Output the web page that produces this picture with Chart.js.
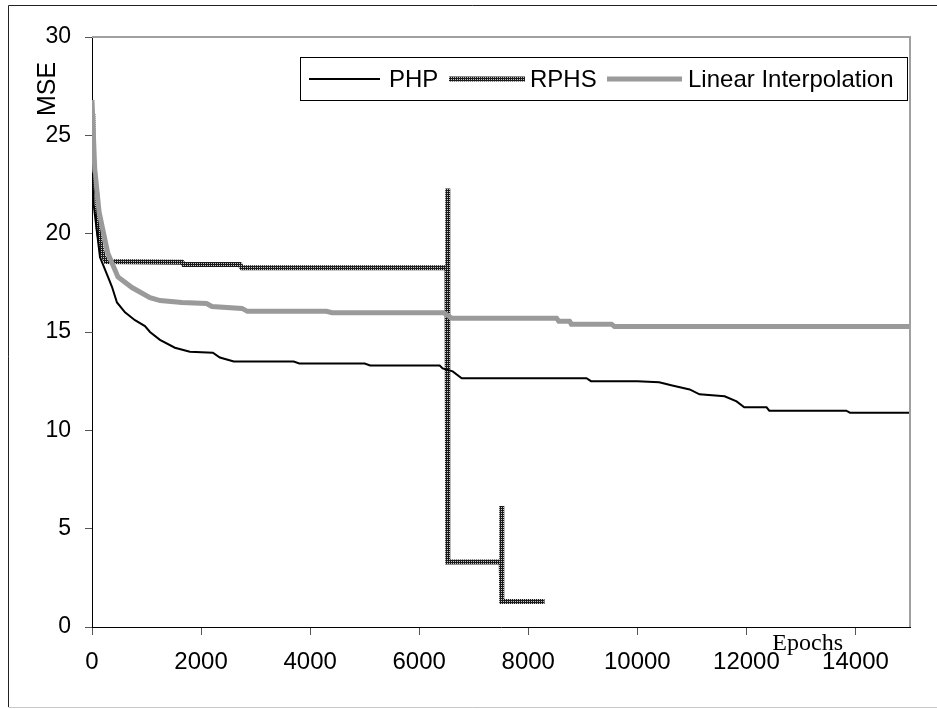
<!DOCTYPE html>
<html>
<head>
<meta charset="utf-8">
<script src="https://cdn.jsdelivr.net/npm/chart.js@4.4.0/dist/chart.umd.min.js"></script>
<style>
  html, body { margin: 0; padding: 0; background: #fff; }
  canvas { display: block; }
</style>
</head>
<body>
<canvas id="mseChart" width="937" height="709"></canvas>
<script>
// values (epochs, MSE)
const phpEpochs = [0, 30, 147, 293, 366, 458, 605, 788, 971, 1063, 1246, 1520, 1795, 2217, 2345, 2600, 3700, 3800, 5000, 5100, 6375, 6430, 6614, 6779, 9068, 9150, 10000, 10400, 10640, 10960, 11140, 11600, 11820, 11960, 12370, 12420, 13830, 13900, 15000];
const phpMse = [23.1, 21.5, 18.8, 17.8, 17.3, 16.5, 16.0, 15.6, 15.3, 15.0, 14.6, 14.2, 14.0, 13.95, 13.7, 13.5, 13.5, 13.4, 13.4, 13.3, 13.3, 13.15, 13.0, 12.65, 12.65, 12.5, 12.5, 12.44, 12.28, 12.08, 11.83, 11.73, 11.47, 11.17, 11.17, 11.0, 11.0, 10.9, 10.9];

const rphsEpochs = [15, 25, 90, 110, 160, 200, 260, 1650, 1680, 2710, 2750, 6510, 6520, 6528, 7505, 7511, 7518, 8299];
const rphsMse = [26.1, 23.2, 22.0, 20.3, 19.4, 18.9, 18.58, 18.55, 18.43, 18.43, 18.27, 18.27, 22.3, 3.3, 3.3, 6.15, 1.3, 1.3];

const linEpochs = [0, 50, 130, 290, 476, 733, 1063, 1250, 1650, 2100, 2200, 2750, 2850, 4300, 4400, 6450, 6600, 8519, 8560, 8757, 8790, 9526, 9581, 15000];
const linMse = [26.8, 23.3, 21.1, 19.0, 17.8, 17.26, 16.75, 16.6, 16.5, 16.45, 16.3, 16.2, 16.05, 16.05, 15.98, 15.98, 15.7, 15.7, 15.55, 15.55, 15.4, 15.4, 15.28, 15.28];

const seriesNames = ['PHP', 'RPHS', 'Linear Interpolation'];
const xTicks = [0, 2000, 4000, 6000, 8000, 10000, 12000, 14000];
const yTicks = [0, 5, 10, 15, 20, 25, 30];

const sans = '"Liberation Sans", Arial, sans-serif';
const serif = '"Liberation Serif", "Times New Roman", serif';

// dark dotted texture for the RPHS line
function makeDotPattern() {
    const c = document.createElement('canvas');
    c.width = 2; c.height = 2;
    const g = c.getContext('2d');
    g.fillStyle = '#1a1a1a';
    g.fillRect(0, 0, 2, 2);
    g.fillStyle = '#c8c8c8';
    g.fillRect(1, 1, 1, 1);
    return g.createPattern(c, 'repeat');
}

const toPoints = (xs, ys) => xs.map((x, i) => ({ x: x, y: ys[i] }));
const rphsPattern = makeDotPattern();

const decorPlugin = {
    id: 'decor',
    beforeDraw(chart) {
        const ctx = chart.ctx;
        ctx.save();
        ctx.fillStyle = '#fff';
        ctx.fillRect(0, 0, chart.width, chart.height);
        ctx.restore();
    },
    afterDraw(chart) {
        const ctx = chart.ctx;
        const a = chart.chartArea;
        ctx.save();

        // plot area border (top / right)
        ctx.strokeStyle = '#a0a0a0';
        ctx.lineWidth = 2;
        ctx.beginPath();
        ctx.moveTo(a.left, a.top);
        ctx.lineTo(a.right, a.top);
        ctx.lineTo(a.right, a.bottom);
        ctx.stroke();

        // outer frame
        ctx.lineWidth = 1;
        ctx.strokeStyle = '#222';
        ctx.beginPath();
        ctx.moveTo(8.5, 707);
        ctx.lineTo(8.5, 5.5);
        ctx.lineTo(937, 5.5);
        ctx.stroke();
        ctx.strokeStyle = '#c8c8c8';
        ctx.beginPath();
        ctx.moveTo(8.5, 707.5);
        ctx.lineTo(937, 707.5);
        ctx.stroke();

        // axis titles
        ctx.fillStyle = '#000';
        ctx.font = '24px ' + serif;
        ctx.textAlign = 'right';
        ctx.textBaseline = 'alphabetic';
        ctx.fillText('Epochs', 843, 650);

        ctx.save();
        ctx.translate(55, 89);
        ctx.rotate(-Math.PI / 2);
        ctx.font = '25px ' + sans;
        ctx.textAlign = 'center';
        ctx.textBaseline = 'alphabetic';
        ctx.fillText('MSE', 0, 0);
        ctx.restore();

        // legend
        const box = { x: 300.5, y: 57.5, w: 607, h: 43 };
        ctx.fillStyle = '#fff';
        ctx.fillRect(box.x, box.y, box.w, box.h);
        ctx.strokeStyle = '#000';
        ctx.lineWidth = 1;
        ctx.strokeRect(box.x, box.y, box.w, box.h);

        const cy = box.y + box.h / 2;
        const items = [
            { ds: 0, x0: 309, x1: 380, tx: 389 },
            { ds: 1, x0: 449, x1: 525, tx: 530 },
            { ds: 2, x0: 607, x1: 682, tx: 688 }
        ];
        ctx.font = '24px ' + sans;
        ctx.textBaseline = 'middle';
        ctx.textAlign = 'left';
        items.forEach(it => {
            const ds = chart.data.datasets[it.ds];
            ctx.strokeStyle = ds.borderColor;
            ctx.lineWidth = ds.borderWidth;
            ctx.lineCap = 'butt';
            ctx.beginPath();
            ctx.moveTo(it.x0, cy);
            ctx.lineTo(it.x1, cy);
            ctx.stroke();
            ctx.fillStyle = '#000';
            ctx.fillText(ds.label, it.tx, cy + 1);
        });

        ctx.restore();
    }
};

new Chart(document.getElementById('mseChart'), {
    type: 'line',
    data: {
        datasets: [
            {
                label: seriesNames[0],
                data: toPoints(phpEpochs, phpMse),
                borderColor: '#000',
                borderWidth: 2,
                order: 1
            },
            {
                label: seriesNames[1],
                data: toPoints(rphsEpochs, rphsMse),
                borderColor: rphsPattern,
                borderWidth: 5,
                order: 3
            },
            {
                label: seriesNames[2],
                data: toPoints(linEpochs, linMse),
                borderColor: '#9a9a9a',
                borderWidth: 5,
                order: 2
            }
        ]
    },
    options: {
        responsive: false,
        animation: false,
        devicePixelRatio: 1,
        parsing: false,
        elements: {
            point: { radius: 0 },
            line: { tension: 0, fill: false, borderJoinStyle: 'miter', borderCapStyle: 'butt' }
        },
        layout: { padding: { top: 37, right: 27, left: 0, bottom: 0 } },
        plugins: {
            legend: { display: false },
            tooltip: { enabled: false }
        },
        scales: {
            x: {
                type: 'linear',
                min: 0,
                max: 15000,
                afterFit: s => { s.height = 82; },
                afterBuildTicks: s => { s.ticks = xTicks.map(v => ({ value: v })); },
                ticks: {
                    maxRotation: 0,
                    autoSkip: false,
                    color: '#000',
                    padding: 13,
                    font: { family: sans, size: 24 },
                    callback: v => String(v)
                },
                grid: { drawOnChartArea: false, drawTicks: true, tickLength: 8, color: '#555' },
                border: { display: true, color: '#000', width: 1 }
            },
            y: {
                min: 0,
                max: 30,
                afterFit: s => { s.width = 92; },
                afterBuildTicks: s => { s.ticks = yTicks.map(v => ({ value: v })); },
                ticks: {
                    color: '#000',
                    padding: 14,
                    font: { family: sans, size: 23 }
                },
                grid: { drawOnChartArea: false, drawTicks: true, tickLength: 7, color: '#555' },
                border: { display: true, color: '#000', width: 1 }
            }
        }
    },
    plugins: [decorPlugin]
});
</script>
</body>
</html>
